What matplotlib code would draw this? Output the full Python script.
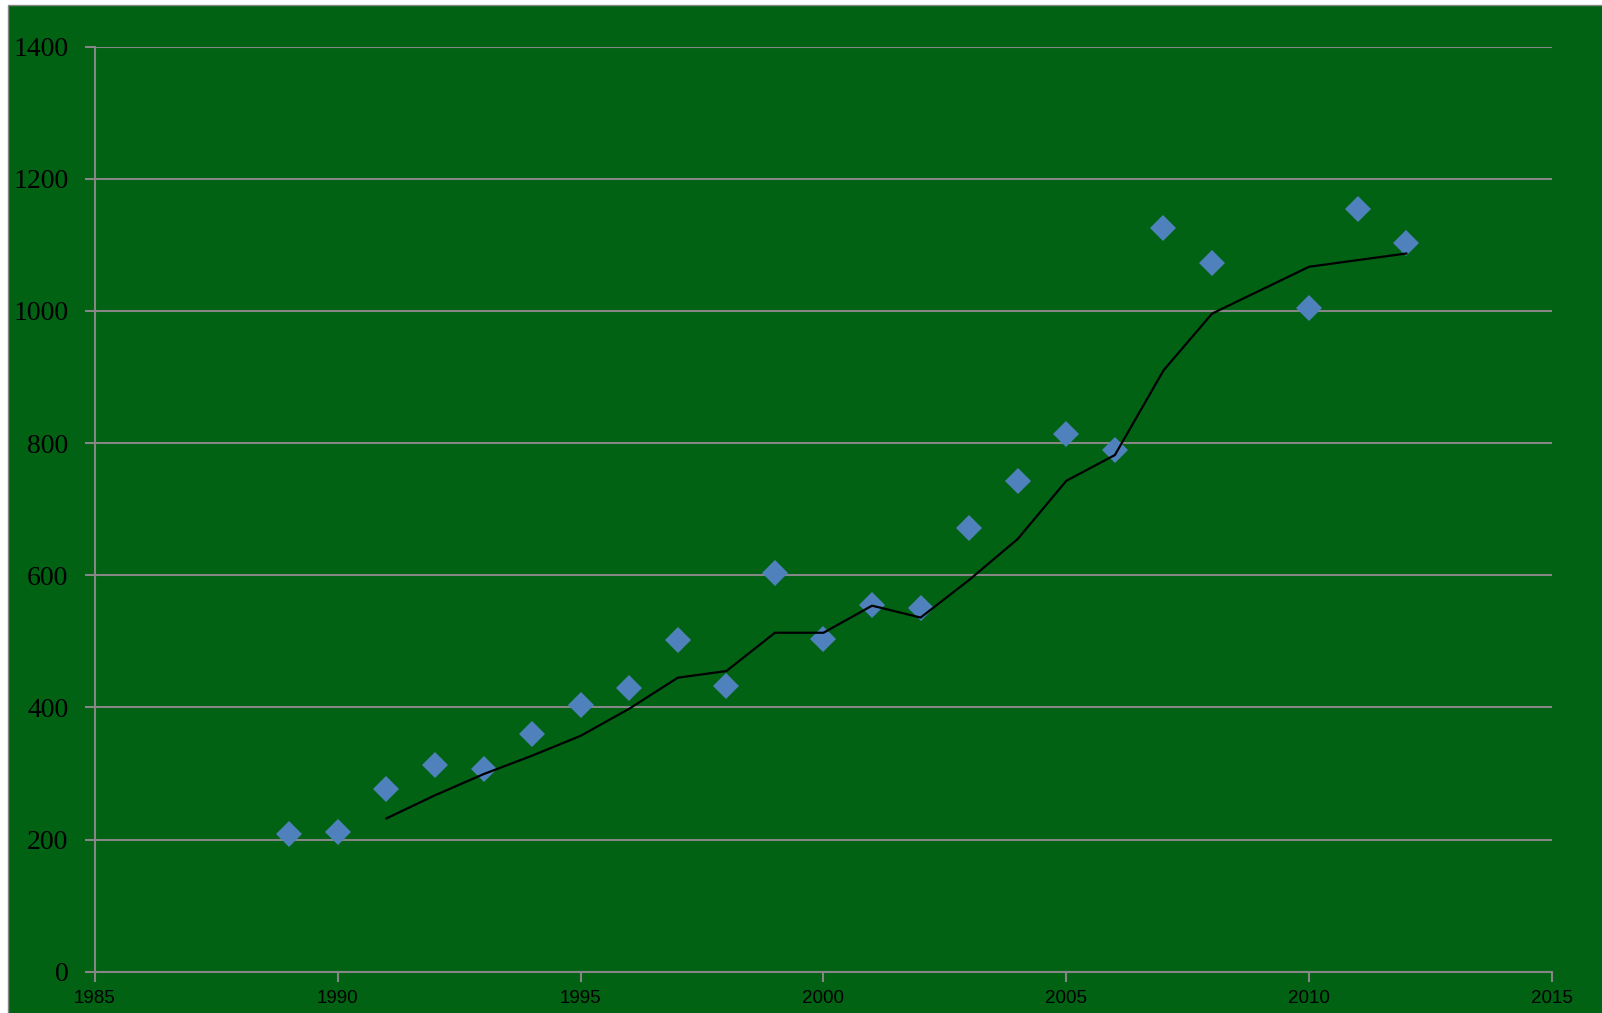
import matplotlib
matplotlib.use("Agg")
import matplotlib.pyplot as plt
from matplotlib.patches import Rectangle

# Scatter data (annual values)
years = [1989, 1990, 1991, 1992, 1993, 1994, 1995, 1996, 1997, 1998, 1999,
         2000, 2001, 2002, 2003, 2004, 2005, 2006, 2007, 2008, 2010, 2011, 2012]
values = [209, 212, 276, 313, 307, 360, 404, 430, 502, 433, 604,
          503, 555, 551, 672, 743, 814, 790, 1125, 1073, 1004, 1154, 1103]

# Trend line (3-period moving average)
trend_years = [1991, 1992, 1993, 1994, 1995, 1996, 1997, 1998, 1999, 2000,
               2001, 2002, 2003, 2004, 2005, 2006, 2007, 2008, 2010, 2011, 2012]
trend_values = [232, 267, 299, 327, 357, 398, 445, 455, 513, 513,
                554, 536, 593, 655, 743, 782, 910, 996, 1067, 1077, 1087]

x_ticks = [1985, 1990, 1995, 2000, 2005, 2010, 2015]
y_ticks = [0, 200, 400, 600, 800, 1000, 1200, 1400]

GREEN = "#006212"
GRID = "#868686"
BLUE = "#4F81BD"

W, H = 1602, 1013
fig = plt.figure(figsize=(W / 100, H / 100), dpi=100)
fig.patch.set_facecolor("white")

# Chart area background with gray border (extends past right/bottom edge)
bg = Rectangle((8 / W, -0.02), 1.05, (H - 4.7) / H + 0.02,
               transform=fig.transFigure, facecolor=GREEN,
               edgecolor=GRID, linewidth=1.0, zorder=-10)
fig.patches.append(bg)

ax = fig.add_axes([95 / W, (H - 971.7) / H, (1552 - 95) / W, (971.7 - 46.7) / H])
ax.set_zorder(5)
ax.patch.set_alpha(0)

ax.set_xlim(1985, 2015)
ax.set_ylim(0, 1400)
ax.set_xticks(x_ticks)
ax.set_yticks(y_ticks)
ax.set_xticklabels([str(t) for t in x_ticks], family="Liberation Sans", fontsize=13.5)
ax.set_yticklabels([str(t) for t in y_ticks], family="Liberation Serif", fontsize=20)

ax.grid(axis="y", color=GRID, linewidth=1.5, zorder=1)
for s in ["top", "right"]:
    ax.spines[s].set_visible(False)
for s in ["left", "bottom"]:
    ax.spines[s].set_color(GRID)
    ax.spines[s].set_linewidth(1.5)
ax.tick_params(axis="both", colors=GRID, labelcolor="black", width=1.5, length=7,
               direction="out")
ax.tick_params(axis="y", pad=12)
ax.tick_params(axis="x", pad=6)

ax.plot(years, values, linestyle="none", marker="D", markersize=13.3,
        color=BLUE, markeredgewidth=0, zorder=3)
ax.plot(trend_years, trend_values, color="black", linewidth=1.6, zorder=4)

fig.savefig("out.png", dpi=100)
